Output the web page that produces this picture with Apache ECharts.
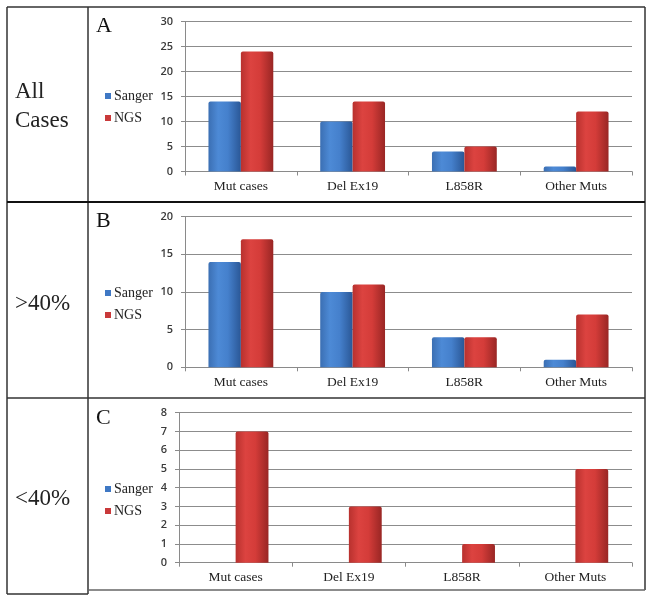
<!DOCTYPE html>
<html>
<head>
<meta charset="utf-8">
<script src="https://cdn.jsdelivr.net/npm/echarts@6/dist/echarts.min.js"></script>
<style>
html,body{margin:0;padding:0;background:#fff;}
#chart{width:653px;height:602px;}
</style>
</head>
<body>
<div id="chart"></div>
<script>
var categories = ['Mut cases', 'Del Ex19', 'L858R', 'Other Muts'];
var seriesNames = ['Sanger', 'NGS'];
var rowLabels = [['All', 'Cases'], ['>40%'], ['<40%']];
var panelLetters = ['A', 'B', 'C'];

var sangerA = [14, 10, 4, 1];
var ngsA = [24, 14, 5, 12];
var sangerB = [14, 10, 4, 1];
var ngsB = [17, 11, 4, 7];
var sangerC = [0, 0, 0, 0];
var ngsC = [7, 3, 1, 5];

var yMaxes = [30, 20, 8];
var yIntervals = [5, 5, 1];

var sangerData = [sangerA, sangerB, sangerC];
var ngsData = [ngsA, ngsB, ngsC];

var blueFill = new echarts.graphic.LinearGradient(0, 0, 1, 0, [
  {offset: 0, color: '#3b6fb3'},
  {offset: 0.3, color: '#4d8ad6'},
  {offset: 0.6, color: '#4580cc'},
  {offset: 1, color: '#2a5796'}
]);
var redFill = new echarts.graphic.LinearGradient(0, 0, 1, 0, [
  {offset: 0, color: '#b8312e'},
  {offset: 0.3, color: '#dc4340'},
  {offset: 0.6, color: '#d43c39'},
  {offset: 1, color: '#992624'}
]);

var grids = [
  {left: 185, right: 21, top: 21.5, height: 150},
  {left: 185, right: 21, top: 216.7, height: 150.6},
  {left: 179, right: 21, top: 412.7, height: 150}
];

var xAxes = [], yAxes = [], series = [], legends = [];
var legendTops = [84, 281, 477];

for (var i = 0; i < 3; i++) {
  xAxes.push({
    type: 'category', gridIndex: i, data: categories,
    axisLine: {lineStyle: {color: '#8a8a8a', width: 1}},
    axisTick: {show: true, length: 4, lineStyle: {color: '#8a8a8a'}},
    axisLabel: {fontFamily: 'Liberation Serif', fontSize: 13.5, color: '#222', margin: 8}
  });
  yAxes.push({
    type: 'value', gridIndex: i, min: 0, max: yMaxes[i], interval: yIntervals[i],
    axisLine: {show: true, lineStyle: {color: '#8a8a8a'}},
    axisTick: {show: true, length: 4, lineStyle: {color: '#8a8a8a'}},
    splitLine: {lineStyle: {color: '#8c8c8c', width: 1}},
    axisLabel: {fontFamily: 'Open Sans', fontSize: 11, color: '#3a3a3a', margin: 12, fontWeight: 600}
  });
  series.push({
    name: seriesNames[0], type: 'bar', xAxisIndex: i, yAxisIndex: i,
    data: sangerData[i], barGap: '0%', barCategoryGap: '42%',
    itemStyle: {color: blueFill, borderRadius: [2, 2, 0, 0]}
  });
  series.push({
    name: seriesNames[1], type: 'bar', xAxisIndex: i, yAxisIndex: i,
    data: ngsData[i], barGap: '0%', barCategoryGap: '42%',
    itemStyle: {color: redFill, borderRadius: [2, 2, 0, 0]}
  });
  legends.push({
    orient: 'vertical', left: 100, top: legendTops[i],
    itemWidth: 6, itemHeight: 6, itemGap: 8,
    icon: 'rect',
    data: [{name: 'Sanger', itemStyle: {color: '#3f78c4'}}, {name: 'NGS', itemStyle: {color: '#c9393a'}}],
    textStyle: {fontFamily: 'Liberation Serif', fontSize: 14, color: '#222', padding: [0, 0, 0, -2]},
    selectedMode: false
  });
}

var lineStyle = {stroke: '#333', lineWidth: 1.5};
var graphics = [
  {type: 'line', shape: {x1: 7, y1: 7, x2: 645, y2: 7}, style: lineStyle},
  {type: 'line', shape: {x1: 7, y1: 7, x2: 7, y2: 594}, style: lineStyle},
  {type: 'line', shape: {x1: 88, y1: 7, x2: 88, y2: 594}, style: lineStyle},
  {type: 'line', shape: {x1: 645, y1: 7, x2: 645, y2: 590}, style: lineStyle},
  {type: 'line', shape: {x1: 7, y1: 202, x2: 645, y2: 202}, style: {stroke: '#111', lineWidth: 2}},
  {type: 'line', shape: {x1: 7, y1: 398, x2: 645, y2: 398}, style: {stroke: '#333', lineWidth: 1.5}},
  {type: 'line', shape: {x1: 7, y1: 594, x2: 88, y2: 594}, style: lineStyle},
  {type: 'line', shape: {x1: 88, y1: 590, x2: 645, y2: 590}, style: {stroke: '#666', lineWidth: 1.5}},
  {type: 'text', left: 15, top: 80, style: {text: rowLabels[0][0], font: '23px "Liberation Serif"', fill: '#222'}},
  {type: 'text', left: 15, top: 109, style: {text: rowLabels[0][1], font: '23px "Liberation Serif"', fill: '#222'}},
  {type: 'text', left: 15, top: 292, style: {text: rowLabels[1][0], font: '23px "Liberation Serif"', fill: '#222'}},
  {type: 'text', left: 15, top: 487, style: {text: rowLabels[2][0], font: '23px "Liberation Serif"', fill: '#222'}},
  {type: 'text', left: 96, top: 15, style: {text: panelLetters[0], font: '22px "Liberation Serif"', fill: '#111'}},
  {type: 'text', left: 96, top: 210, style: {text: panelLetters[1], font: '22px "Liberation Serif"', fill: '#111'}},
  {type: 'text', left: 96, top: 407, style: {text: panelLetters[2], font: '22px "Liberation Serif"', fill: '#111'}}
];

var chart = echarts.init(document.getElementById('chart'));
chart.setOption({
  backgroundColor: '#fff',
  animation: false,
  grid: grids,
  xAxis: xAxes,
  yAxis: yAxes,
  legend: legends,
  series: series,
  graphic: graphics
});
</script>
</body>
</html>
